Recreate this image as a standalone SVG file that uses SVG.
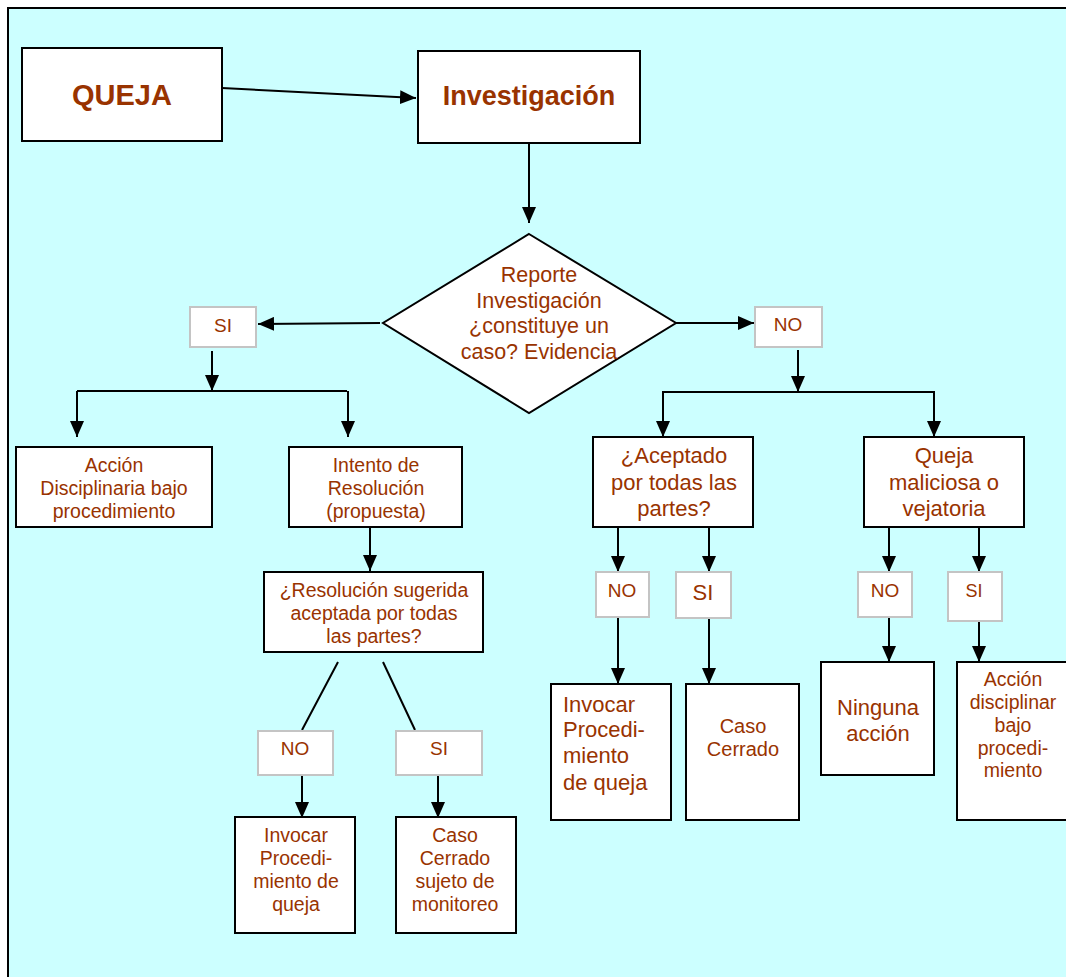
<svg xmlns="http://www.w3.org/2000/svg" width="1066" height="977" viewBox="0 0 1066 977">
<defs>
<style>
.box{fill:#fff;stroke:#000;stroke-width:2}
.lbl{fill:#fff;stroke:#c4c4c4;stroke-width:2}
.t{font-family:"Liberation Sans",Arial,sans-serif;fill:#993300;text-anchor:middle}
.b{font-weight:bold}
.c{stroke:#000;stroke-width:2;fill:none}
.a{stroke:#000;stroke-width:2;fill:none;marker-end:url(#ah)}
</style>
<marker id="ah" markerUnits="userSpaceOnUse" markerWidth="16" markerHeight="14" viewBox="0 0 16 14" refX="16" refY="7" orient="auto">
<path d="M0,0 L16,7 L0,14 Z" fill="#000"/>
</marker>
</defs>
<rect x="0" y="0" width="1066" height="977" fill="#fff"/>
<rect x="8" y="8" width="1070" height="980" fill="#ccffff" stroke="#000" stroke-width="2"/>

<g id="connectors">
<line class="a" x1="222" y1="88" x2="416" y2="98"/>
<line class="a" x1="529" y1="143" x2="529" y2="223"/>
<line class="a" x1="380" y1="323" x2="258" y2="324"/>
<line class="a" x1="676" y1="323" x2="754" y2="323"/>
<line class="a" x1="212" y1="351" x2="212" y2="391"/>
<polyline class="c" points="77,391 347,391"/>
<line class="a" x1="77" y1="391" x2="77" y2="437"/>
<line class="a" x1="348" y1="391" x2="348" y2="437"/>
<line class="a" x1="370" y1="527" x2="370" y2="571"/>
<line class="c" x1="338" y1="662" x2="302" y2="730"/>
<line class="c" x1="383" y1="662" x2="415" y2="730"/>
<line class="a" x1="302" y1="775" x2="302" y2="818"/>
<line class="a" x1="438" y1="775" x2="438" y2="818"/>
<line class="a" x1="798" y1="350" x2="798" y2="392"/>
<polyline class="c" points="663,437 663,392 934,392 934,437"/>
<line class="a" x1="663" y1="392" x2="663" y2="437"/>
<line class="a" x1="934" y1="392" x2="934" y2="437"/>
<line class="a" x1="618" y1="527" x2="618" y2="572"/>
<line class="a" x1="709" y1="527" x2="709" y2="572"/>
<line class="a" x1="889" y1="527" x2="889" y2="572"/>
<line class="a" x1="979" y1="527" x2="979" y2="572"/>
<line class="a" x1="618" y1="618" x2="618" y2="684"/>
<line class="a" x1="709" y1="618" x2="709" y2="684"/>
<line class="a" x1="889" y1="618" x2="889" y2="662"/>
<line class="a" x1="979" y1="621" x2="979" y2="662"/>
</g>

<g id="queja">
<rect class="box" x="22" y="48" width="200" height="93"/>
<text class="t b" x="122" y="105" font-size="29">QUEJA</text>
</g>
<g id="investigacion">
<rect class="box" x="418" y="51" width="222" height="92"/>
<text class="t b" x="529" y="105" font-size="27">Investigación</text>
</g>
<g id="decision">
<polygon class="box" points="529,234 676,323 529,413 383,323"/>
<text class="t" font-size="21.5"><tspan x="539" y="282">Reporte</tspan><tspan x="539" y="308">Investigación</tspan><tspan x="539" y="333">¿constituye un</tspan><tspan x="539" y="359">caso? Evidencia</tspan></text>
</g>
<g id="si-top">
<rect class="lbl" x="190" y="307" width="66" height="40"/>
<text class="t" x="223" y="332" font-size="19">SI</text>
</g>
<g id="no-top">
<rect class="lbl" x="755" y="307" width="67" height="40"/>
<text class="t" x="788" y="331" font-size="19">NO</text>
</g>
<g id="accion-disciplinaria">
<rect class="box" x="16" y="447" width="196" height="80"/>
<text class="t" font-size="19.5"><tspan x="114" y="472">Acción</tspan><tspan x="114" y="495">Disciplinaria bajo</tspan><tspan x="114" y="518">procedimiento</tspan></text>
</g>
<g id="intento">
<rect class="box" x="289" y="447" width="173" height="80"/>
<text class="t" font-size="19.5"><tspan x="376" y="472">Intento de</tspan><tspan x="376" y="495">Resolución</tspan><tspan x="376" y="518">(propuesta)</tspan></text>
</g>
<g id="resolucion">
<rect class="box" x="264" y="572" width="219" height="80"/>
<text class="t" font-size="19.5"><tspan x="374" y="597">¿Resolución sugerida</tspan><tspan x="374" y="620">aceptada por todas</tspan><tspan x="374" y="643">las partes?</tspan></text>
</g>
<g id="no-res">
<rect class="lbl" x="258" y="731" width="75" height="44"/>
<text class="t" x="295" y="755" font-size="19">NO</text>
</g>
<g id="si-res">
<rect class="lbl" x="396" y="731" width="86" height="44"/>
<text class="t" x="439" y="755" font-size="19">SI</text>
</g>
<g id="invocar-1">
<rect class="box" x="235" y="817" width="120" height="116"/>
<text class="t" font-size="19.5"><tspan x="296" y="842">Invocar</tspan><tspan x="296" y="865">Procedi-</tspan><tspan x="296" y="888">miento de</tspan><tspan x="296" y="911">queja</tspan></text>
</g>
<g id="caso-cerrado-monitoreo">
<rect class="box" x="396" y="817" width="120" height="116"/>
<text class="t" font-size="19.5"><tspan x="455" y="842">Caso</tspan><tspan x="455" y="865">Cerrado</tspan><tspan x="455" y="888">sujeto de</tspan><tspan x="455" y="911">monitoreo</tspan></text>
</g>
<g id="aceptado">
<rect class="box" x="593" y="437" width="160" height="90"/>
<text class="t" font-size="22"><tspan x="674" y="463">¿Aceptado</tspan><tspan x="674" y="490">por todas las</tspan><tspan x="674" y="516">partes?</tspan></text>
</g>
<g id="maliciosa">
<rect class="box" x="864" y="437" width="160" height="90"/>
<text class="t" font-size="22"><tspan x="944" y="463">Queja</tspan><tspan x="944" y="490">maliciosa o</tspan><tspan x="944" y="516">vejatoria</tspan></text>
</g>
<g id="no-acep">
<rect class="lbl" x="596" y="572" width="53" height="45"/>
<text class="t" x="622" y="597" font-size="19">NO</text>
</g>
<g id="si-acep">
<rect class="lbl" x="676" y="572" width="55" height="46"/>
<text class="t" x="703" y="600" font-size="22">SI</text>
</g>
<g id="no-mal">
<rect class="lbl" x="858" y="572" width="54" height="45"/>
<text class="t" x="885" y="597" font-size="19">NO</text>
</g>
<g id="si-mal">
<rect class="lbl" x="948" y="572" width="54" height="49"/>
<text class="t" x="974" y="597" font-size="18">SI</text>
</g>
<g id="invocar-2">
<rect class="box" x="551" y="684" width="120" height="136"/>
<text class="t" font-size="22" style="text-anchor:start"><tspan x="563" y="712">Invocar</tspan><tspan x="563" y="737">Procedi-</tspan><tspan x="563" y="763">miento</tspan><tspan x="563" y="790">de queja</tspan></text>
</g>
<g id="caso-cerrado">
<rect class="box" x="686" y="684" width="113" height="136"/>
<text class="t" font-size="20"><tspan x="743" y="733">Caso</tspan><tspan x="743" y="756">Cerrado</tspan></text>
</g>
<g id="ninguna">
<rect class="box" x="821" y="662" width="113" height="113"/>
<text class="t" font-size="22"><tspan x="878" y="715">Ninguna</tspan><tspan x="878" y="741">acción</tspan></text>
</g>
<g id="accion-disciplinar">
<rect class="box" x="957" y="662" width="120" height="158"/>
<text class="t" font-size="19.5"><tspan x="1013" y="686">Acción</tspan><tspan x="1013" y="709">disciplinar</tspan><tspan x="1013" y="732">bajo</tspan><tspan x="1013" y="755">procedi-</tspan><tspan x="1013" y="777">miento</tspan></text>
</g>
</svg>
